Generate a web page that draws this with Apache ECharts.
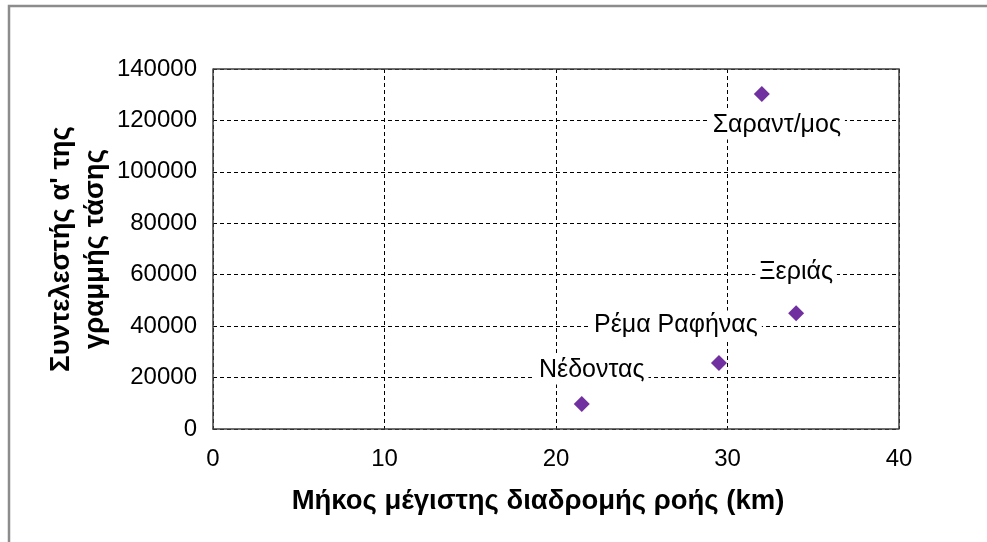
<!DOCTYPE html>
<html lang="el">
  <head>
    <meta charset="UTF-8" />
    <title>Συντελεστής α' - Μήκος διαδρομής ροής</title>
    <script src="https://cdn.jsdelivr.net/npm/echarts@6/dist/echarts.min.js"></script>
    <style>
      html, body { margin: 0; padding: 0; background: #fff; }
    </style>
  </head>
  <body>
    <div id="main" style="width: 987px; height: 542px"></div>
    <script type="text/javascript">
      // basins, flow path length (km) and coefficient a' of the trend line
      let basins = ["Νέδοντας", "Ρέμα Ραφήνας", "Ξεριάς", "Σαραντ/μος"];
      let lengthKm = [21.5, 29.5, 34, 32];
      let coefA = [9700, 25700, 45000, 130300];

      // where each name sits relative to its marker
      let labelOffsets = [[10, -34], [-43, -38], [0, -41], [15, 31]];

      let font = "Liberation Sans, Arial, sans-serif";

      let points = basins.map((name, i) => ({
        name: name,
        value: [lengthKm[i], coefA[i]],
        label: { offset: labelOffsets[i] },
      }));

      let options = {
        animation: false,
        backgroundColor: "#fff",
        grid: { left: 213, right: 88, top: 69, bottom: 113 },
        xAxis: {
          type: "value",
          min: 0,
          max: 40,
          interval: 10,
          name: "Μήκος μέγιστης διαδρομής ροής (km)",
          nameLocation: "middle",
          nameGap: 58,
          nameMoveOverlap: false,
          nameTextStyle: {
            fontFamily: font,
            fontWeight: "bold",
            fontSize: 27.5,
            color: "#000",
            padding: [0, 36, 0, 0],
          },
          axisLine: { show: true, lineStyle: { color: "#404040", width: 1.5 } },
          axisTick: { show: false },
          axisLabel: { fontFamily: font, fontSize: 24, color: "#000", margin: 18 },
          splitLine: { show: true, lineStyle: { color: "#000", type: [4, 3], width: 1 } },
        },
        yAxis: {
          type: "value",
          min: 0,
          max: 140000,
          interval: 20000,
          name: "Συντελεστής α' της\nγραμμής τάσης",
          nameLocation: "middle",
          nameRotate: 90,
          nameGap: 101,
          nameMoveOverlap: false,
          nameTextStyle: {
            fontFamily: font,
            fontWeight: "bold",
            fontSize: 27.5,
            lineHeight: 34,
            color: "#000",
          },
          axisLine: { show: true, lineStyle: { color: "#404040", width: 1.5 } },
          axisTick: { show: false },
          axisLabel: {
            fontFamily: font,
            fontSize: 24,
            color: "#000",
            margin: 16,
            formatter: (v) => String(v),
          },
          splitLine: { show: true, lineStyle: { color: "#000", type: [4, 3], width: 1 } },
        },
        series: [
          {
            type: "scatter",
            symbol: "diamond",
            symbolSize: 16,
            itemStyle: { color: "#7030A0", opacity: 1 },
            label: {
              show: true,
              position: "inside",
              formatter: "{b}",
              fontFamily: font,
              fontSize: 25,
              color: "#000",
              backgroundColor: "#fff",
              padding: [2, 4],
            },
            data: points,
          },
        ],
      };

      let myChart = echarts.init(document.getElementById("main"));
      myChart.setOption(options);

      // outer frame (top and left) and solid top/right edges of the plot
      let x0 = myChart.convertToPixel({ xAxisIndex: 0 }, 0);
      let x1 = myChart.convertToPixel({ xAxisIndex: 0 }, 40);
      let y0 = myChart.convertToPixel({ yAxisIndex: 0 }, 0);
      let y1 = myChart.convertToPixel({ yAxisIndex: 0 }, 140000);
      myChart.setOption({
        graphic: [
          {
            type: "polyline",
            shape: { points: [[9, 542], [9, 6], [987, 6]] },
            style: { fill: null, stroke: "#8c8c8c", lineWidth: 2.5 },
          },
          {
            type: "polyline",
            shape: { points: [[x0, y1], [x1, y1], [x1, y0]] },
            style: { fill: null, stroke: "#404040", lineWidth: 1.5 },
            z: 10,
          },
        ],
      });
    </script>
  </body>
</html>
